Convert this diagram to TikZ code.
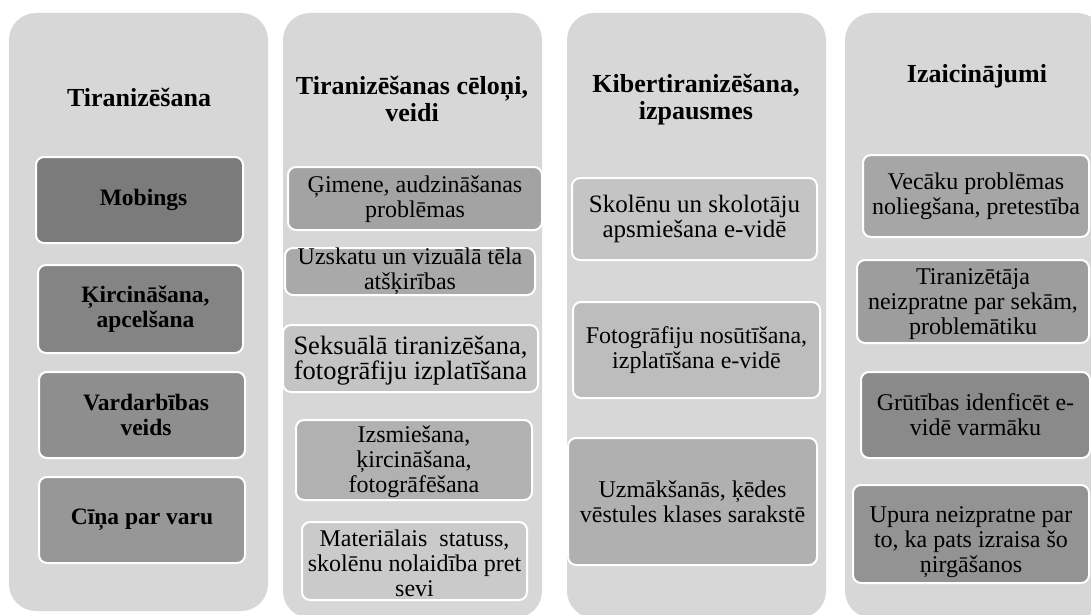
\documentclass[tikz,border=0pt]{standalone}
\usepackage{fontspec}
\setmainfont{Liberation Serif}
\usepackage{xcolor}
\usepackage{tikz}

\definecolor{panelgray}{HTML}{D7D7D7}
\definecolor{gA}{HTML}{7B7B7B}
\definecolor{gB}{HTML}{848484}
\definecolor{gC}{HTML}{8E8E8E}
\definecolor{gD}{HTML}{979797}
\definecolor{gE}{HTML}{A3A3A3}
\definecolor{gF}{HTML}{A9A9A9}
\definecolor{gG}{HTML}{C4C4C4}
\definecolor{gH}{HTML}{B1B1B1}
\definecolor{gI}{HTML}{CACACA}
\definecolor{gJ}{HTML}{BDBDBD}
\definecolor{gK}{HTML}{B0B0B0}
\definecolor{gL}{HTML}{A6A6A6}
\definecolor{gM}{HTML}{9D9D9D}
\definecolor{gN}{HTML}{8A8A8A}
\definecolor{gO}{HTML}{939393}

\begin{document}
\begin{tikzpicture}[
    x=1pt, y=-1pt,
    panel/.style={fill=panelgray, rounded corners=27pt, inner sep=0pt, minimum width=259pt},
    ibox/.style={draw=white, line width=2pt, rounded corners=8pt, inner sep=0pt},
    ttl/.style={align=center, font=\fontsize{26}{27}\selectfont\bfseries},
    btxt/.style={align=center, font=\fontsize{23.5}{25}\selectfont\bfseries},
    itxt/.style={align=center, font=\fontsize{24}{25}\selectfont}
]
\clip (0,0) rectangle (1091,615);
\fill[white] (0,0) rectangle (1091,615);

% columns
\node[panel, minimum height=598pt] (col1) at (138.5, 312) {};
\node[panel, minimum height=605pt] (col2) at (412.5, 315.5) {};
\node[panel, minimum height=605pt] (col3) at (696.5, 315.5) {};
\node[panel, minimum height=605pt] (col4) at (974.5, 315.5) {};

% titles
\node[ttl] (ttl1) at (139, 97) {Tiranizēšana};
\node[ttl] (ttl2) at (412, 99) {Tiranizēšanas cēloņi,\\veidi};
\node[ttl] (ttl3) at (696, 100) {Kibertiranizēšana,\\izpausmes};
\node[ttl] (ttl4) at (977, 76) {Izaicinājumi};

% first column
\node[ibox, fill=gA, minimum width=207pt, minimum height=86pt] (mob) at (139.5, 200) {};
\node[ibox, fill=gB, minimum width=205pt, minimum height=88pt] (kirc) at (140.5, 309) {};
\node[ibox, fill=gC, minimum width=206pt, minimum height=86pt] (vard) at (142, 415) {};
\node[ibox, fill=gD, minimum width=206pt, minimum height=86pt] (cina) at (142, 520) {};
\node[btxt, xshift=4pt] (mob-t) at (mob) {Mobings};
\node[btxt, xshift=5pt] (kirc-t) at (kirc) {Ķircināšana,\\apcelšana};
\node[btxt, xshift=4pt] (vard-t) at (vard) {Vardarbības\\veids};
\node[btxt] (cina-t) at (cina) {Cīņa par varu};

% second column
\node[ibox, fill=gE, minimum width=254pt, minimum height=63pt] (gim) at (415, 198.5) {};
\node[ibox, fill=gF, minimum width=250pt, minimum height=47pt] (uzsk) at (410, 271.5) {};
\node[ibox, fill=gG, minimum width=255pt, minimum height=67pt] (seks) at (410.5, 358.5) {};
\node[ibox, fill=gH, minimum width=236pt, minimum height=80pt] (izsm) at (414, 460) {};
\node[ibox, fill=gI, minimum width=225pt, minimum height=78pt] (mat) at (414.5, 561) {};
\node[itxt, yshift=-1pt] (gim-t) at (gim) {Ģimene, audzināšanas\\problēmas};
\node[itxt] (uzsk-t) at (uzsk) {Uzskatu un vizuālā tēla\\atšķirības};
\node[itxt, font=\fontsize{26.5}{25}\selectfont, yshift=-2pt] (seks-t) at (seks) {Seksuālā tiranizēšana,\\fotogrāfiju izplatīšana};
\node[itxt, yshift=-2pt] (izsm-t) at (izsm) {Izsmiešana,\\ķircināšana,\\fotogrāfēšana};
\node[itxt, yshift=-2pt] (mat-t) at (mat) {Materiālais~ statuss,\\skolēnu nolaidība pret\\sevi};

% third column
\node[ibox, fill=gG, minimum width=245pt, minimum height=82pt] (skol) at (694.5, 219) {};
\node[ibox, fill=gJ, minimum width=247pt, minimum height=96pt] (foto) at (696.5, 350) {};
\node[ibox, fill=gK, minimum width=249pt, minimum height=127pt] (uzm) at (692.5, 501.5) {};
\node[itxt, font=\fontsize{25}{25}\selectfont] (skol-t) at (skol) {Skolēnu un skolotāju\\apsmiešana e-vidē};
\node[itxt] (foto-t) at (foto) {Fotogrāfiju nosūtīšana,\\izplatīšana e-vidē};
\node[itxt] (uzm-t) at (uzm) {Uzmākšanās, ķēdes\\vēstules klases sarakstē};

% fourth column
\node[ibox, fill=gL, minimum width=226pt, minimum height=82pt] (vec) at (976, 196) {};
\node[ibox, fill=gM, minimum width=232pt, minimum height=83pt] (tir) at (973, 301.5) {};
\node[ibox, fill=gN, minimum width=229pt, minimum height=86pt] (gru) at (975.5, 415) {};
\node[ibox, fill=gO, minimum width=236pt, minimum height=98pt] (upu) at (971, 534) {};
\node[itxt] (vec-t) at (vec) {Vecāku problēmas\\noliegšana, pretestība};
\node[itxt, yshift=-3pt] (tir-t) at (tir) {Tiranizētāja\\neizpratne par sekām,\\problemātiku};
\node[itxt] (gru-t) at (gru) {Grūtības idenficēt e-\\vidē varmāku};
\node[itxt, yshift=-8pt] (upu-t) at (upu) {Upura neizpratne par\\to, ka pats izraisa šo\\ņirgāšanos};
\end{tikzpicture}
\end{document}
